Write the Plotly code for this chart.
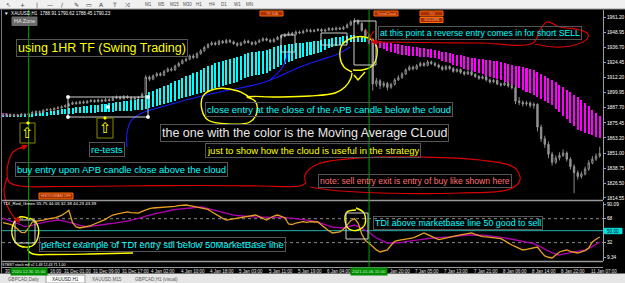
import plotly.graph_objects as go

# ---------------- data ----------------
time_labels = ["30 Dec 08:00", "30 Dec 16:00", "31 Dec 01:00", "31 Dec 09:00", "31 Dec 17:00",
               "4 Jan 02:00", "4 Jan 10:00", "4 Jan 18:00", "5 Jan 03:00", "5 Jan 11:00",
               "5 Jan 19:00", "6 Jan 04:00", "6 Jan 12:00", "6 Jan 20:00", "7 Jan 05:00",
               "7 Jan 13:00", "7 Jan 21:00", "8 Jan 06:00", "8 Jan 14:00", "8 Jan 22:00",
               "11 Jan 07:00"]
label_step = 8
cursor_bars = [7, 100]
cursor_labels = ["2020.12.30 15:00", "2021.01.06 15:00"]
price_ticks = [1961.20, 1948.95, 1936.70, 1924.45, 1912.20, 1899.95, 1887.70,
               1875.45, 1863.20, 1851.00, 1838.75, 1826.50, 1814.55]
tdi_ticks = [90.09, 68, 32, 9.34]
tdi_tick_text = ["90.09", "68", "32", "9.34"]
tdi_levels_dotted = [68, 32]
tdi_base = 50

closes = [1881.5, 1882.3, 1881.0, 1882.0, 1881.2, 1882.5, 1881.8, 1883.0,
          1883.8, 1884.5, 1884.0, 1885.6, 1886.2, 1885.8, 1887.0, 1887.6, 1888.4, 1889.2,
          1890.5, 1891.8, 1891.0, 1892.4, 1891.6, 1892.8, 1893.5, 1892.6, 1893.9, 1893.0, 1894.2, 1893.6,
          1895.4, 1896.2, 1895.0, 1896.6, 1895.8, 1894.7, 1895.5, 1896.0, 1898.6,
          1912.5,
          1910.8, 1913.5, 1915.2, 1914.0, 1917.1, 1919.0, 1918.2, 1921.4, 1923.5,
          1925.8, 1927.0, 1929.6, 1928.4, 1931.5, 1933.8,
          1936.5, 1938.8, 1940.2, 1939.0, 1941.5, 1940.3, 1942.2, 1941.0, 1939.6, 1938.4, 1940.0,
          1941.7, 1940.5, 1939.2, 1940.8, 1942.0, 1943.5, 1942.4, 1941.2, 1943.0, 1944.6, 1945.5,
          1946.8, 1948.0, 1947.2, 1949.0, 1948.3, 1949.6, 1950.4, 1949.5,
          1950.2, 1951.0, 1949.8, 1950.6, 1951.8, 1950.9, 1952.2, 1951.4, 1952.6,
          1954.8, 1957.2, 1958.3,
          1956.0, 1950.4, 1946.0, 1943.2,
          1907.0,
          1909.5, 1905.8, 1907.4, 1904.2, 1906.6, 1910.3, 1912.0,
          1915.0, 1918.4, 1920.5, 1919.2, 1921.7, 1923.5, 1922.0, 1924.8, 1923.6, 1922.2,
          1920.6, 1918.8, 1921.0, 1919.5, 1917.2, 1918.6, 1916.4, 1915.0, 1916.8, 1914.6,
          1913.0, 1911.5, 1912.8, 1910.2, 1908.6, 1909.8, 1907.0, 1906.2, 1907.5, 1905.4, 1904.0,
          1893.0, 1892.0, 1890.8, 1891.6, 1889.4, 1890.5,
          1872.0, 1862.5, 1858.0, 1850.0, 1843.5,
          1847.0, 1849.0, 1851.0, 1846.0, 1840.0, 1835.0, 1832.0, 1834.0, 1838.0, 1843.0,
          1846.0, 1848.5, 1850.5]

opens = [1882.0, 1881.5, 1882.3, 1881.0, 1882.0, 1881.2, 1882.5, 1881.8,
         1883.0, 1883.8, 1884.5, 1884.0, 1885.6, 1886.2, 1885.8, 1887.0, 1887.6, 1888.4,
         1889.2, 1890.5, 1891.8, 1891.0, 1892.4, 1891.6, 1892.8, 1893.5, 1892.6, 1893.9, 1893.0, 1894.2,
         1893.6, 1895.4, 1896.2, 1895.0, 1896.6, 1895.8, 1894.7, 1895.5, 1896.0,
         1898.6,
         1912.5, 1910.8, 1913.5, 1915.2, 1914.0, 1917.1, 1919.0, 1918.2, 1921.4,
         1923.5, 1925.8, 1927.0, 1929.6, 1928.4, 1931.5,
         1933.8, 1936.5, 1938.8, 1940.2, 1939.0, 1941.5, 1940.3, 1942.2, 1941.0, 1939.6, 1938.4,
         1940.0, 1941.7, 1940.5, 1939.2, 1940.8, 1942.0, 1943.5, 1942.4, 1941.2, 1943.0, 1944.6,
         1945.5, 1946.8, 1948.0, 1947.2, 1949.0, 1948.3, 1949.6, 1950.4,
         1949.5, 1950.2, 1951.0, 1949.8, 1950.6, 1951.8, 1950.9, 1952.2, 1951.4,
         1952.6, 1954.8, 1957.2,
         1958.3, 1956.0, 1950.4, 1946.0,
         1943.2,
         1907.0, 1909.5, 1905.8, 1907.4, 1904.2, 1906.6, 1910.3,
         1912.0, 1915.0, 1918.4, 1920.5, 1919.2, 1921.7, 1923.5, 1922.0, 1924.8, 1923.6,
         1922.2, 1920.6, 1918.8, 1921.0, 1919.5, 1917.2, 1918.6, 1916.4, 1915.0, 1916.8,
         1914.6, 1913.0, 1911.5, 1912.8, 1910.2, 1908.6, 1909.8, 1907.0, 1906.2, 1907.5, 1905.4,
         1904.0, 1893.0, 1892.0, 1890.8, 1891.6, 1889.4,
         1890.5, 1872.0, 1862.5, 1858.0, 1850.0,
         1843.5, 1847.0, 1849.0, 1851.0, 1846.0, 1840.0, 1835.0, 1832.0, 1834.0, 1838.0,
         1843.0, 1846.0, 1848.5]

highs = [1883.0, 1883.1, 1883.0, 1882.9, 1882.8, 1883.4, 1883.2, 1884.1,
         1885.0, 1885.6, 1885.5, 1886.5, 1887.3, 1887.4, 1888.0, 1888.9, 1889.5, 1890.4,
         1891.6, 1892.8, 1893.0, 1893.4, 1893.6, 1894.0, 1894.8, 1894.6, 1895.2, 1895.0, 1895.6, 1895.4,
         1896.8, 1897.6, 1897.4, 1898.0, 1897.8, 1896.9, 1896.6, 1897.2, 1900.0,
         1914.0,
         1913.8, 1914.6, 1916.5, 1916.6, 1918.4, 1920.3, 1920.4, 1922.6, 1924.8,
         1927.0, 1928.4, 1930.8, 1931.2, 1932.6, 1935.2,
         1937.8, 1940.0, 1941.6, 1941.4, 1942.8, 1942.6, 1943.6, 1943.4, 1942.2, 1940.8, 1941.2,
         1943.0, 1942.8, 1941.6, 1942.0, 1943.4, 1944.8, 1944.6, 1943.6, 1944.2, 1945.8, 1947.0,
         1948.2, 1949.4, 1949.2, 1950.4, 1950.2, 1951.0, 1951.8, 1951.6,
         1951.4, 1952.2, 1952.0, 1951.8, 1953.0, 1952.8, 1953.4, 1953.2, 1954.0,
         1956.0, 1958.6, 1960.2,
         1959.4, 1957.0, 1951.6, 1947.2,
         1944.0,
         1911.8, 1910.8, 1909.2, 1908.6, 1908.0, 1911.6, 1914.0,
         1916.4, 1919.6, 1922.0, 1921.8, 1923.0, 1925.0, 1924.6, 1926.2, 1926.0, 1924.8,
         1923.4, 1921.8, 1922.4, 1922.2, 1920.6, 1919.8, 1919.6, 1917.6, 1918.0, 1917.8,
         1915.8, 1914.2, 1914.0, 1913.8, 1911.4, 1911.0, 1910.8, 1908.2, 1908.8, 1908.4, 1906.6,
         1905.2, 1896.4, 1893.6, 1893.2, 1892.8, 1892.0,
         1891.2, 1874.0, 1865.0, 1860.4, 1852.0,
         1849.0, 1851.6, 1854.0, 1852.4, 1847.6, 1841.8, 1836.8, 1836.0, 1840.0, 1845.2,
         1848.4, 1850.6, 1856.0]

lows = [1880.6, 1880.8, 1880.2, 1880.3, 1880.5, 1880.6, 1881.0, 1881.2,
        1882.4, 1883.0, 1883.2, 1883.5, 1885.0, 1885.1, 1885.3, 1886.4, 1887.0, 1887.9,
        1888.7, 1890.0, 1890.2, 1890.4, 1890.8, 1891.0, 1892.1, 1891.8, 1892.0, 1892.2, 1892.4, 1892.7,
        1893.0, 1894.6, 1894.2, 1894.4, 1894.9, 1893.6, 1893.9, 1894.8, 1895.3,
        1897.9,
        1909.2, 1910.0, 1912.6, 1913.0, 1913.4, 1916.2, 1917.0, 1917.6, 1920.6,
        1922.8, 1924.9, 1926.2, 1927.0, 1927.6, 1930.6,
        1933.0, 1935.6, 1937.9, 1938.0, 1938.2, 1939.4, 1939.5, 1940.0, 1938.6, 1937.2, 1937.6,
        1939.2, 1939.6, 1938.0, 1938.4, 1940.0, 1941.2, 1941.4, 1940.2, 1940.4, 1942.2, 1943.8,
        1944.8, 1946.0, 1946.2, 1946.4, 1947.4, 1947.6, 1948.8, 1948.6,
        1948.8, 1949.4, 1948.9, 1949.0, 1949.8, 1950.0, 1950.2, 1950.6, 1950.8,
        1952.0, 1954.0, 1956.4,
        1954.8, 1949.2, 1944.8, 1941.0,
        1901.5,
        1904.6, 1902.8, 1904.0, 1901.8, 1903.0, 1905.8, 1909.4,
        1911.2, 1914.2, 1917.6, 1918.0, 1918.4, 1920.8, 1920.8, 1921.2, 1922.4, 1921.0,
        1919.4, 1917.6, 1918.0, 1918.2, 1916.0, 1916.2, 1915.0, 1913.8, 1914.2, 1913.4,
        1911.8, 1910.2, 1910.6, 1909.0, 1907.2, 1907.6, 1905.8, 1904.8, 1905.2, 1904.0, 1902.6,
        1890.6, 1889.8, 1888.6, 1889.2, 1887.6, 1886.8,
        1868.4, 1860.0, 1855.2, 1846.6, 1840.8,
        1842.0, 1845.0, 1847.8, 1844.2, 1837.6, 1818.5, 1829.4, 1830.2, 1832.8, 1836.6,
        1841.8, 1844.6, 1847.2]

# moving-average cloud (fast / slow MA)
ma_fast = [1881.8, 1881.9, 1882.0, 1882.1, 1882.2, 1882.3, 1882.5, 1882.6,
           1883.0, 1883.4, 1883.8, 1884.2, 1884.6, 1885.0, 1885.4, 1885.8, 1886.3, 1886.7,
           1887.1, 1887.5, 1887.9, 1888.3, 1888.7, 1889.1, 1889.5, 1889.9, 1890.3, 1890.7,
           1891.1, 1891.5, 1891.8, 1892.2, 1892.6, 1893.0, 1893.3, 1893.7, 1894.1, 1894.4, 1894.8,
           1897.6, 1900.4,
           1901.5, 1902.7, 1903.8, 1905.0, 1906.1,
           1907.5, 1909.0, 1910.4, 1911.8,
           1913.1, 1914.4, 1915.7, 1917.0, 1918.3,
           1919.7, 1921.1, 1922.5, 1923.9,
           1924.7, 1925.5, 1926.4, 1927.2, 1928.0,
           1929.0, 1930.0, 1931.0, 1932.0,
           1932.5, 1933.0, 1933.5, 1934.0, 1934.5,
           1935.5, 1936.5, 1937.5, 1938.5,
           1938.8, 1939.1, 1939.5, 1939.8, 1940.1,
           1940.4, 1940.8, 1941.1, 1941.5, 1941.8,
           1942.4, 1943.0, 1943.6, 1944.2,
           1944.7, 1945.2, 1945.6, 1946.1, 1946.6,
           1946.4, 1946.0, 1945.5, 1945.0,
           1939.3, 1937.7,
           1936.8, 1935.9, 1934.9, 1934.0, 1933.1, 1932.2, 1931.3, 1930.4,
           1930.1, 1929.8, 1929.6, 1929.3, 1929.0, 1928.8, 1928.5, 1928.3, 1928.0,
           1926.9, 1925.8, 1924.7, 1923.7, 1922.6, 1921.5, 1920.4, 1919.4, 1918.3,
           1917.4, 1916.5, 1915.6, 1914.7, 1913.7, 1912.8, 1911.9, 1911.0, 1910.1,
           1908.8, 1907.4, 1906.1, 1904.7, 1903.4, 1902.0, 1900.7, 1899.3, 1898.0,
           1896.4, 1894.8, 1893.1, 1891.5, 1889.9,
           1887.0, 1884.1, 1881.2, 1878.3, 1875.4, 1872.5, 1869.6,
           1868.5, 1867.5, 1866.4, 1865.3, 1864.3, 1863.2]

ma_slow = [1880.2, 1880.2, 1880.3, 1880.3, 1880.3, 1880.3, 1880.2, 1880.2,
           1880.4, 1880.6, 1880.9, 1881.1, 1881.3, 1881.5, 1881.8, 1882.0, 1882.3, 1882.6,
           1882.8, 1882.9, 1883.1, 1883.2, 1883.4, 1883.5, 1883.7, 1883.8, 1884.0, 1884.2,
           1884.3, 1884.5, 1884.6, 1884.8, 1884.9, 1885.1, 1885.2, 1885.4, 1885.5, 1885.7, 1885.8,
           1886.6, 1887.5,
           1888.3, 1889.1, 1889.9, 1890.7, 1891.5,
           1892.5, 1893.5, 1894.6, 1895.6,
           1896.4, 1897.2, 1898.0, 1898.8, 1899.6,
           1900.6, 1901.6, 1902.7, 1903.7,
           1904.5, 1905.3, 1906.1, 1906.9, 1907.7,
           1908.9, 1910.1, 1911.4, 1912.6,
           1913.2, 1913.9, 1914.5, 1915.2, 1915.8,
           1917.4, 1919.0, 1920.7, 1922.3,
           1923.4, 1924.6, 1925.7, 1926.9, 1928.0,
           1928.8, 1929.6, 1930.4, 1931.2, 1932.0,
           1933.2, 1934.5, 1935.7, 1936.9,
           1937.7, 1938.5, 1939.3, 1940.1, 1940.9,
           1941.0, 1941.0, 1941.0, 1940.9,
           1943.4, 1942.6,
           1942.1, 1941.6, 1941.1, 1940.5, 1940.0, 1939.5, 1939.0, 1938.5,
           1938.1, 1937.6, 1937.2, 1936.7, 1936.3, 1935.8, 1935.4, 1934.9, 1934.5,
           1933.9, 1933.2, 1932.6, 1932.0, 1931.3, 1930.7, 1930.1, 1929.4, 1928.8,
           1928.3, 1927.9, 1927.4, 1927.0, 1926.5, 1926.1, 1925.6, 1925.2, 1924.7,
           1924.0, 1923.3, 1922.6, 1921.9, 1921.2, 1920.4, 1919.7, 1919.0, 1918.3,
           1916.7, 1915.0, 1913.4, 1911.7, 1910.1,
           1908.2, 1906.2, 1904.3, 1902.3, 1900.3, 1898.4, 1896.4,
           1893.8, 1891.2, 1888.7, 1886.1, 1883.6, 1881.0]

# TDI (orange = RSI price line, purple = trade signal line)
tdi_price = [62.0, 61.0, 59.5, 57.0, 52.0, 47.5, 47.0, 54.0, 63.0, 64.5,
             65.0, 66.0, 67.5, 68.5, 69.0, 70.5, 73.0, 76.5, 80.5, 62.0,
             55.5, 54.0, 55.0, 55.5, 57.5, 60.0, 62.0, 64.0, 67.0, 70.5,
             73.5, 75.0, 76.0, 77.5, 78.1, 77.0, 76.2, 76.5, 79.0, 81.5,
             83.0, 84.1, 84.5, 84.0, 85.0, 85.5, 85.6, 86.5, 87.5, 88.0,
             88.6, 87.5, 86.5, 85.0, 84.1, 83.0, 82.0, 78.5, 75.0, 71.5,
             68.5, 66.0, 67.0, 68.0, 68.5, 69.0, 70.0, 71.5, 72.5, 73.5,
             71.0, 68.0, 66.0, 69.0, 72.0, 73.5, 71.5, 69.5, 60.0, 59.0,
             61.5, 63.0, 63.5, 62.5, 63.5, 63.0, 63.0, 58.5, 54.0, 50.0,
             46.5, 47.0, 48.0, 52.0, 58.5, 65.0, 68.0, 61.5, 45.0, 35.0,
             31.0, 25.4, 21.0, 17.9, 19.0, 20.9, 28.0, 34.0, 35.5, 36.5,
             37.0, 38.0, 39.0, 41.5, 44.0, 46.5, 44.0, 41.5, 39.0, 36.5,
             37.5, 39.0, 40.5, 41.5, 42.5, 43.5, 44.5, 45.5, 46.5, 44.5,
             42.5, 41.0, 40.5, 40.0, 39.5, 39.0, 38.0, 35.0, 31.5, 28.4,
             26.0, 23.5, 20.9, 22.0, 23.5, 24.5, 25.4, 18.0, 12.0, 10.0,
             8.9, 13.5, 17.9, 19.5, 20.9, 19.0, 17.5, 16.4, 18.0, 20.0,
             24.0, 33.0, 37.0, 40.5]

tdi_signal = [69.0, 67.0, 65.0, 63.3, 61.0, 58.5, 56.0, 56.5, 58.0, 60.0,
              61.5, 62.5, 63.5, 64.5, 65.5, 66.0, 65.0, 64.0, 62.5, 61.5,
              60.0, 58.0, 56.5, 55.5, 56.5, 57.5, 58.5, 59.0, 59.8, 60.4,
              61.0, 61.5, 62.5, 63.5, 64.5, 65.7, 67.0, 68.2, 70.0, 71.8,
              73.5, 74.8, 76.0, 77.2, 78.5, 79.8, 81.0, 81.8, 82.5, 83.0,
              83.6, 84.2, 84.8, 85.3, 85.6, 84.5, 83.0, 81.3, 79.8, 78.4,
              77.0, 75.6, 74.3, 73.3, 72.8, 72.2, 71.6, 71.0, 70.6, 70.5,
              70.5, 70.5, 70.5, 70.5, 70.3, 70.0, 69.8, 69.5, 69.2, 69.0,
              68.2, 67.4, 66.6, 65.8, 65.0, 64.0, 63.2, 61.0, 59.0, 57.0,
              55.5, 55.0, 54.5, 54.0, 55.5, 57.0, 58.5, 56.0, 53.5, 51.5,
              48.0, 43.0, 39.0, 36.5, 33.5, 31.4, 31.4, 31.4, 31.4, 32.5,
              33.5, 34.5, 35.3, 36.0, 36.6, 37.4, 38.2, 38.8, 39.2, 39.5,
              39.8, 40.2, 40.5, 41.2, 41.8, 42.5, 43.1, 43.5, 43.5, 43.5,
              43.5, 43.5, 43.0, 42.3, 41.7, 41.0, 40.2, 39.2, 38.2, 37.0,
              36.0, 35.0, 34.0, 33.0, 32.0, 30.5, 27.8, 25.0, 21.5, 19.0,
              16.8, 14.8, 13.4, 14.6, 15.8, 17.2, 18.2, 19.0, 19.8, 20.6,
              23.0, 26.0, 29.5, 33.0]

# ---------------- figure ----------------
W, H = 625, 283
FONT = "Liberation Sans"
CYAN = "#00ffff"
YEL = "#ffff00"
RED = "#d80000"
X_LEFT, X_RIGHT = -0.27, 163.9          # visible bar range
PX_LEFT, PX_RIGHT = 2, 603              # plot area in pixels


def py(y):
    return 1 - y / H


def bar_px(i):
    return PX_LEFT + (i - X_LEFT) * (PX_RIGHT - PX_LEFT) / (X_RIGHT - X_LEFT)


fig = go.Figure()

n = len(closes)
cyan_i = [i for i in range(len(ma_fast)) if ma_fast[i] >= ma_slow[i]]
mag_i = [i for i in range(len(ma_fast)) if ma_fast[i] < ma_slow[i]]
for ids, col in ((cyan_i, CYAN), (mag_i, "#ff00ff")):
    fig.add_trace(go.Bar(
        x=ids, base=[min(ma_fast[i], ma_slow[i]) for i in ids],
        y=[abs(ma_fast[i] - ma_slow[i]) for i in ids],
        width=0.55, marker=dict(color=col, line=dict(width=0)),
        xaxis="x", yaxis="y", hoverinfo="skip", showlegend=False))

fig.add_trace(go.Candlestick(
    x=list(range(n)), open=opens, high=highs, low=lows, close=closes,
    increasing=dict(line=dict(color="#9a9a9a", width=0.9), fillcolor="#000000"),
    decreasing=dict(line=dict(color="#9a9a9a", width=0.9), fillcolor="#8a8a8a"),
    whiskerwidth=0, xaxis="x", yaxis="y", showlegend=False, hoverinfo="skip"))

fig.add_trace(go.Scatter(x=list(range(len(tdi_signal))), y=tdi_signal, mode="lines",
                         line=dict(color="#b000b0", width=1.3), xaxis="x", yaxis="y2",
                         showlegend=False, hoverinfo="skip"))
fig.add_trace(go.Scatter(x=list(range(len(tdi_price))), y=tdi_price, mode="lines",
                         line=dict(color="#e8a020", width=1.3), xaxis="x", yaxis="y2",
                         showlegend=False, hoverinfo="skip"))

# ---------- hand-drawn strokes (pixel overlay) ----------
def stroke(pts, color, width=1.3, shape="spline"):
    fig.add_trace(go.Scatter(x=[p[0] for p in pts], y=[p[1] for p in pts], mode="lines",
                             line=dict(color=color, width=width, shape=shape, smoothing=1.0),
                             xaxis="x2", yaxis="y3", showlegend=False, hoverinfo="skip"))

# blue
stroke([(127, 147), (127, 133), (131, 121), (142, 113), (165, 106), (190, 99), (215, 93),
        (240, 88), (262, 83), (278, 77), (300, 67), (320, 60), (338, 54), (350, 47)], "#1a1aff", 1.1)
stroke([(270, 80), (282, 68), (288, 53)], "#1a1aff", 1.1)
# yellow
stroke([(252, 99), (238, 91), (215, 89), (203, 96), (202, 110), (208, 120), (228, 124),
        (250, 122), (257, 112), (255, 101), (247, 97), (275, 97), (310, 96), (335, 93),
        (345, 87), (351, 78), (352, 73)], YEL, 1.4)
stroke([(352, 72), (344, 67), (340, 57), (342, 45), (352, 38), (365, 37), (375, 43),
        (377, 55), (372, 66), (362, 70), (353, 70)], YEL, 1.4)
stroke([(354, 75), (358, 80), (365, 72)], YEL, 1.4, "linear")
stroke([(30, 219), (20, 217), (13, 225), (13, 238), (20, 246), (32, 246), (38, 237),
        (37, 224), (30, 218)], YEL, 1.4)
stroke([(30, 246), (28, 250), (33, 254), (50, 254.5), (90, 254), (133, 253)], YEL, 1.4)
stroke([(356, 210), (347, 212), (345, 220), (349, 229), (358, 230), (365, 224), (364, 213),
        (356, 208)], YEL, 1.4)
# red
stroke([(27, 146), (20, 148), (13, 152), (9, 160), (7, 172), (9, 182), (20, 186),
        (60, 186.5), (120, 186), (200, 185.5), (260, 186), (300, 186), (306, 183)], RED, 1.2)
stroke([(306, 183), (305, 175), (318, 164), (360, 158), (420, 157), (480, 160), (515, 168),
        (520, 180), (510, 189), (460, 193), (380, 193), (330, 190), (310, 187)], RED, 1.2)
stroke([(7, 178), (4, 190), (6, 202), (11, 213), (17, 220)], RED, 1.2)
stroke([(373, 42), (420, 42.5), (480, 43), (533, 43), (540, 30), (547, 22), (560, 27),
        (580, 30), (588, 34), (587, 39), (575, 45), (555, 47), (535, 44)], RED, 1.2)
stroke([(366, 30), (374, 43)], RED, 1.2, "linear")
stroke([(374, 31), (367, 41)], RED, 1.2, "linear")

shapes = []


def rect(x0, y0, x1, y1, line="#d0d0d0", fill="rgba(0,0,0,0)", width=1, layer="above"):
    shapes.append(dict(type="rect", xref="x2", yref="y3", x0=x0, y0=y0, x1=x1, y1=y1,
                       line=dict(color=line, width=width), fillcolor=fill, layer=layer))


def hline(y, x0, x1, color, width=1, dash="solid"):
    shapes.append(dict(type="line", xref="x2", yref="y3", x0=x0, x1=x1, y0=y, y1=y,
                       line=dict(color=color, width=width, dash=dash), layer="above"))


# window chrome
rect(0, 0, 625, 8.5, line="#f0f0f0", fill="#f0f0f0", layer="below")
rect(0, 274, 625, 283, line="#e6e6e6", fill="#e6e6e6", layer="below")
rect(46, 275, 85, 283, line="#a0a0a0", fill="#ffffff", layer="below")
hline(9, 0, 625, "#9a9a9a")
hline(200.5, 2, 603, "#9a9a9a", 1.5)
hline(261.5, 2, 603, "#9a9a9a", 1.5)
hline(267.5, 2, 603, "#9a9a9a", 1.2)
shapes.append(dict(type="line", xref="x2", yref="y3", x0=1.5, x1=1.5, y0=9.5, y1=274,
                   line=dict(color="#7a7a7a", width=1)))

# vertical green cursor lines at bar positions
for bar in cursor_bars:
    shapes.append(dict(type="line", xref="x", yref="paper", x0=bar, x1=bar,
                       y0=py(268), y1=py(10), line=dict(color="#00a000", width=1), layer="above"))

# TDI levels
for lv in tdi_levels_dotted:
    shapes.append(dict(type="line", xref="paper", yref="y2", x0=2 / W, x1=603 / W, y0=lv, y1=lv,
                       line=dict(color="#8a8a8a", width=1, dash="dot"), layer="below"))
shapes.append(dict(type="line", xref="paper", yref="y2", x0=2 / W, x1=603 / W, y0=tdi_base,
                   y1=tdi_base, line=dict(color="#20b0b0", width=1), layer="below"))

# white selection boxes
rect(68, 97, 148, 117)
rect(281, 35, 295, 52)
rect(321, 33, 347, 45)
rect(354, 21, 376, 65)
rect(15, 220, 35, 243)
rect(346, 213, 368, 239)
for (cx, cy) in ((68, 97), (148, 97), (68, 117), (148, 117), (108, 107)):
    rect(cx - 1.2, cy - 1.2, cx + 1.2, cy + 1.2, line="#ffffff", fill="#ffffff")
# up-arrow boxes
rect(20, 123, 35, 143, line="#8a8a00")
rect(97, 118, 113, 138, line="#8a8a00")
rect(27, 122, 29, 124, line=YEL, fill=YEL)
rect(104, 117, 106, 119, line=YEL, fill=YEL)
# small indicator buttons
for (x0, y0, x1, y1) in ((260, 11, 283, 16), (374, 11, 398, 16), (420, 11, 443, 16),
                         (420, 17.5, 443, 22.5), (39, 193, 73, 199)):
    rect(x0, y0, x1, y1, line="#ff6a00", fill="#a83000")
rect(12, 17, 37, 25.5, line="#6a6a6a", fill="#6a6a6a")
# 50.00 box on TDI scale
rect(604, 228.3, 622, 233.7, line="#00e0e0", fill="#00e0e0")

annotations = []


def txt(x, y, s, size, color, border=None, xanchor="left", family=FONT, pad=1):
    annotations.append(dict(x=x, y=y, xref="x2", yref="y3", text=s, showarrow=False,
                            xanchor=xanchor, yanchor="middle",
                            font=dict(size=size, color=color, family=family),
                            bordercolor=border if border else "rgba(0,0,0,0)",
                            borderwidth=1 if border else 0, borderpad=pad))


BORDER = "#555555"
txt(16, 47.5, "using 1HR TF (Swing Trading)", 12.5, YEL, BORDER)
txt(378, 33, "at this point a reverse entry comes in for short SELL", 8.7, CYAN, BORDER)
txt(205, 109.5, "close entry at the close of the APB candle below the cloud", 9.5, CYAN, BORDER)
txt(160, 133, "the one with the color is the Moving Average CLoud", 12.5, "#e8e8e8", BORDER)
txt(205, 150, "just to show how the cloud is useful in the strategy", 9.5, YEL, BORDER)
txt(89, 149.5, "re-tests", 9.5, CYAN, BORDER)
txt(15, 169.5, "buy entry upon APB candle close above the cloud", 9.5, CYAN, BORDER)
txt(318, 180.5, "note: sell entry exit is entry of buy like shown here", 8.6, "#ff7070", BORDER)
txt(39, 244, "perfect example of TDI entry stil below 50MarketBase line", 9.5, CYAN, BORDER)
txt(373, 222.5, "TDI above marketbase line 50 good to sell", 8.9, CYAN, BORDER)

txt(27.5, 133, "⇧", 15, YEL, xanchor="center", family="DejaVu Sans", pad=0)
txt(105, 128, "⇧", 15, YEL, xanchor="center", family="DejaVu Sans", pad=0)

# small chart texts
txt(4, 13.5, "▼  XAUUSD,H1  1788.91 1790.62 1788.45 1790.23", 4.6, "#ffffff", pad=0)
txt(24.5, 21.3, "HA Zone", 5.5, "#e6e6e6", xanchor="center", pad=0)
txt(3, 203.8, "TDI_Red_Green 55.75 44.06 32.38 44.23 43.39", 4.4, "#ffffff", pad=0)
txt(2, 264.6, "STMST stoch mtf v2 1.48 12.43 71 1.00", 3.6, "#ffffff", pad=0)
txt(2, 115, "FB", 4.5, "#c060c0", pad=0)
for (cx, cy, s) in ((271.5, 13.5, "TF 30A"), (386, 13.5, "TrendCloud"), (431.5, 13.5, "TDI"),
                    (431.5, 20, "GOLDEN"), (56, 196, "HISTOGRAM OFF")):
    txt(cx, cy, s, 3.6, "#ffb080", xanchor="center", pad=0)
txt(613, 231, "50.00", 4.6, "#000000", xanchor="center", pad=0)

# toolbar glyphs
for (x, s) in ((8, "↖"), (22, "+"), (37, "|"), (50, "—"), (62, "/"), (76, "✎"), (89, "▭"),
               (101, "A"), (114, "T"), (127, "⤨")):
    txt(x, 4.5, s, 6, "#404040", xanchor="center", family="DejaVu Sans", pad=0)
for (x, s) in ((148, "M1"), (161, "M5"), (174, "M15"), (187, "M30"), (199, "H1"), (212, "H4"),
               (224, "D1"), (237, "W1"), (249, "MN")):
    txt(x, 4.5, s, 4.5, "#505050", xanchor="center", pad=0)
for (x, s, c) in ((24, "GBPCAD,Daily", "#606060"), (65.5, "XAUUSD,H1", "#202020"),
                  (107, "XAUUSD,M15", "#606060"), (156, "GBPCAD,H1 (visual)", "#606060")):
    txt(x, 279.5, s, 4.6, c, xanchor="center", pad=0)

# time axis: MT4 draws the cursor date boxes over the regular labels, so only
# the part of a label that is not covered stays visible.
CHAR_W = 2.25          # approx. pixel width of one character at this size
BOX_HALF = 18
boxes = [(bar_px(b) - BOX_HALF, bar_px(b) + BOX_HALF) for b in cursor_bars]
for k, lab in enumerate(time_labels):
    x0 = bar_px(k * label_step)
    x1 = x0 + CHAR_W * len(lab)
    shown, xs = lab, x0
    for (b0, b1) in boxes:
        if x0 < b0 < x1:                       # box covers the tail
            keep = int((b0 - x0) / CHAR_W) - 1
            shown = lab[:max(keep, 0)].rstrip()
        elif b0 <= x0 < b1:                    # box covers the head
            drop = int((b1 - x0) / CHAR_W) + 1
            shown = lab[drop:].lstrip()
            xs = x0 + CHAR_W * (len(lab) - len(shown))
    if shown:
        annotations.append(dict(x=xs, y=271.3, xref="x2", yref="y3", text=shown,
                                showarrow=False, xanchor="left", yanchor="middle",
                                font=dict(size=4.5, color="#e0e0e0", family=FONT)))
for b, lab in zip(cursor_bars, cursor_labels):
    annotations.append(dict(x=bar_px(b), y=271.3, xref="x2", yref="y3", text=lab,
                            showarrow=False, xanchor="center", yanchor="middle",
                            bgcolor="#008a00", font=dict(size=4.3, color="#c8ffc8", family=FONT),
                            borderpad=1))


# arrowheads
def arrow(x, y, ax, ay, color=RED):
    annotations.append(dict(x=x, y=y, xref="x2", yref="y3", ax=ax, ay=ay, text="",
                            showarrow=True, arrowhead=2, arrowsize=1, arrowwidth=1.2,
                            arrowcolor=color))


arrow(371, 42, 12, 0)
arrow(28, 145, -9, 4)
arrow(20, 223, -5, -6)

fig.update_layout(
    width=W, height=H, autosize=False,
    margin=dict(l=0, r=0, t=0, b=0, pad=0),
    paper_bgcolor="#000000", plot_bgcolor="rgba(0,0,0,0)",
    showlegend=False, barmode="overlay", bargap=0, boxgap=0.45,
    xaxis=dict(domain=[PX_LEFT / W, PX_RIGHT / W], range=[X_LEFT, X_RIGHT], visible=False,
               rangeslider=dict(visible=False), fixedrange=True, anchor="y"),
    yaxis=dict(domain=[py(200), py(10)], range=[1812.92, 1966.87], side="right", anchor="x",
               tickvals=price_ticks, ticktext=["%.2f" % v for v in price_ticks],
               tickfont=dict(size=4.8, color="#ffffff", family=FONT),
               showgrid=False, zeroline=False, showline=True, linecolor="#a0a0a0",
               ticks="outside", ticklen=2, tickcolor="#a0a0a0", automargin=False),
    yaxis2=dict(domain=[py(261), py(202)], range=[4.36, 93.1], side="right", anchor="x",
                tickvals=tdi_ticks, ticktext=tdi_tick_text,
                tickfont=dict(size=4.8, color="#ffffff", family=FONT),
                showgrid=False, zeroline=False, showline=True, linecolor="#a0a0a0",
                ticks="outside", ticklen=2, tickcolor="#a0a0a0", automargin=False),
    xaxis2=dict(domain=[0, 1], range=[0, W], visible=False, anchor="y3", fixedrange=True),
    yaxis3=dict(domain=[0, 1], range=[H, 0], visible=False, anchor="x2", fixedrange=True),
    shapes=shapes, annotations=annotations,
)

fig.write_html("out.html")
